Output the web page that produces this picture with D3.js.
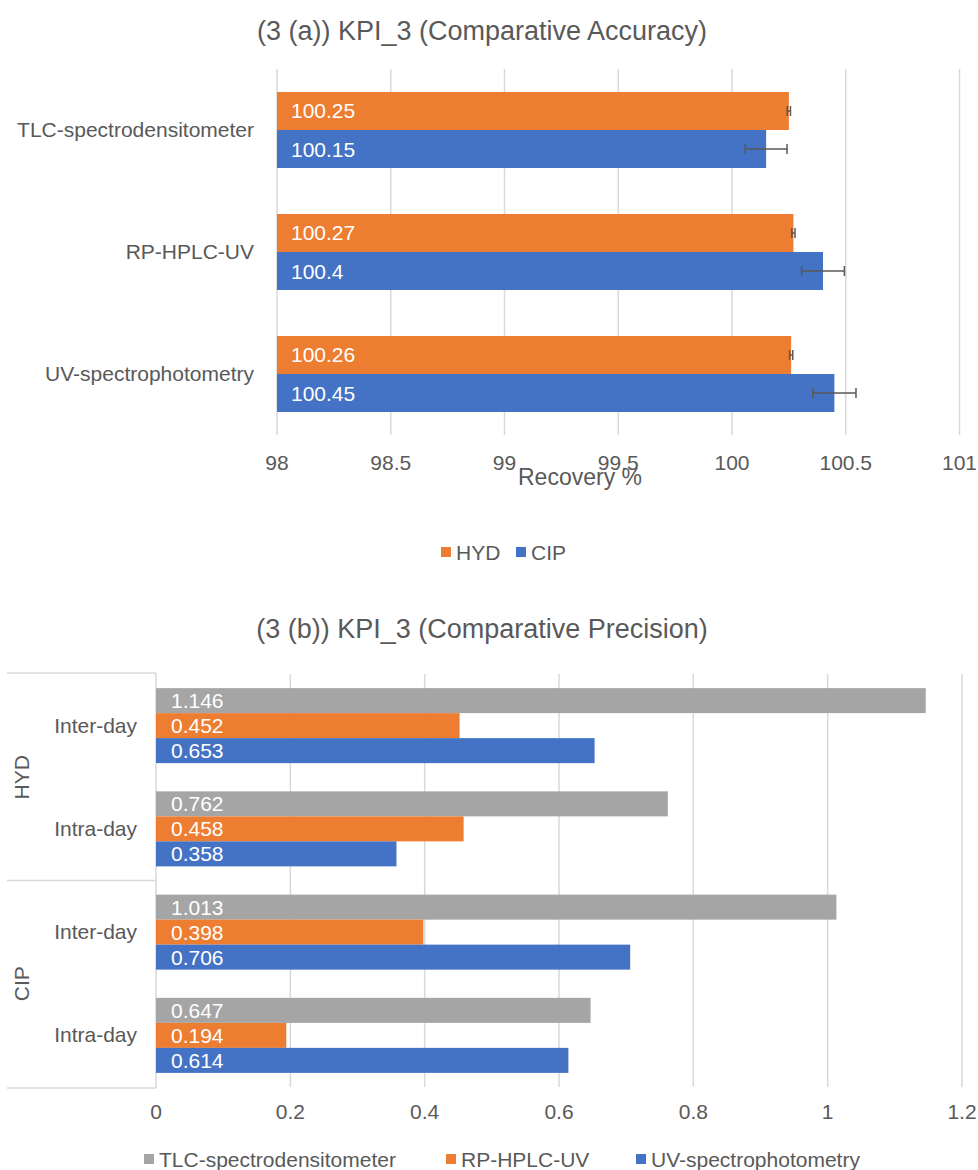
<!DOCTYPE html>
<html>
<head>
<meta charset="utf-8">
<script src="https://cdn.jsdelivr.net/npm/d3@7/dist/d3.min.js"></script>
<style>
  html, body { margin: 0; padding: 0; background: #fff; }
  svg { display: block; font-family: "Liberation Sans", Arial, sans-serif; }
</style>
</head>
<body>
<svg id="chart" width="978" height="1170"></svg>
<script>
// ---- Accuracy panel data ----
const accMethods = ["TLC-spectrodensitometer", "RP-HPLC-UV", "UV-spectrophotometry"];
const accSeries = ["HYD", "CIP"];
const accHYD = [100.25, 100.27, 100.26];
const accCIP = [100.15, 100.4, 100.45];
const accHYDErr = [0.007, 0.007, 0.007];
const accCIPErr = [0.092, 0.094, 0.095];
const accTicks = [98, 98.5, 99, 99.5, 100, 100.5, 101];

// ---- Precision panel data ----
const precGroups = ["HYD", "CIP"];
const precLevels = ["Inter-day", "Intra-day"];
const precSeries = ["TLC-spectrodensitometer", "RP-HPLC-UV", "UV-spectrophotometry"];
const precTLC = [1.146, 0.762, 1.013, 0.647];
const precRP = [0.452, 0.458, 0.398, 0.194];
const precUV = [0.653, 0.358, 0.706, 0.614];
const precTicks = [0, 0.2, 0.4, 0.6, 0.8, 1, 1.2];

const C = { HYD: "#ED7D31", CIP: "#4472C4", TLC: "#A5A5A5", RP: "#ED7D31", UV: "#4472C4" };
const textCol = "#595959";
const gridCol = "#D9D9D9";
const FS = 21;       // body text size
const TITLE_FS = 27; // panel title size

const svg = d3.select("#chart");

/* ================= Panel (a): accuracy ================= */
{
  const g = svg.append("g");
  const x = d3.scaleLinear().domain([98, 101]).range([277, 959.5]);
  const y = d3.scaleBand().domain(accMethods).range([69, 435]).paddingInner(0.377).paddingOuter(0.1885);
  const ySub = d3.scaleBand().domain(accSeries).range([0, y.bandwidth()]);

  g.append("text").attr("x", 482).attr("y", 40).attr("text-anchor", "middle")
    .attr("font-size", TITLE_FS).attr("fill", textCol).text("(3 (a)) KPI_3 (Comparative Accuracy)");

  // gridlines
  g.append("g").selectAll("line").data(accTicks).join("line")
    .attr("x1", d => x(d)).attr("x2", d => x(d))
    .attr("y1", 69).attr("y2", 435)
    .attr("stroke", gridCol).attr("stroke-width", 1.5);

  // tick labels
  g.append("g").selectAll("text").data(accTicks).join("text")
    .attr("x", d => x(d)).attr("y", 470).attr("text-anchor", "middle")
    .attr("font-size", FS).attr("fill", textCol).text(d => d);

  g.append("text").attr("x", 580).attr("y", 485).attr("text-anchor", "middle")
    .attr("font-size", 23).attr("fill", textCol).text("Recovery %");

  // category labels
  g.append("g").selectAll("text").data(accMethods).join("text")
    .attr("x", 254).attr("y", d => y(d) + y.bandwidth() / 2 + 7)
    .attr("text-anchor", "end").attr("font-size", FS).attr("fill", textCol).text(d => d);

  const rows = [];
  accMethods.forEach((m, i) => {
    rows.push({ m, s: "HYD", v: accHYD[i], e: accHYDErr[i] });
    rows.push({ m, s: "CIP", v: accCIP[i], e: accCIPErr[i] });
  });

  g.append("g").selectAll("rect").data(rows).join("rect")
    .attr("x", x(98)).attr("y", d => y(d.m) + ySub(d.s))
    .attr("width", d => x(d.v) - x(98)).attr("height", ySub.bandwidth())
    .attr("fill", d => C[d.s]);

  g.append("g").selectAll("text").data(rows).join("text")
    .attr("x", x(98) + 14).attr("y", d => y(d.m) + ySub(d.s) + ySub.bandwidth() / 2 + 7.5)
    .attr("font-size", FS).attr("fill", "#fff").text(d => d.v);

  // error bars
  const eb = g.append("g").attr("stroke", "#595959").attr("stroke-width", 1.5).attr("fill", "none");
  rows.forEach(d => {
    const cy = y(d.m) + ySub(d.s) + ySub.bandwidth() / 2;
    const x0 = x(d.v - d.e), x1 = x(d.v + d.e);
    eb.append("line").attr("x1", x0).attr("x2", x1).attr("y1", cy).attr("y2", cy);
    eb.append("line").attr("x1", x0).attr("x2", x0).attr("y1", cy - 5).attr("y2", cy + 5);
    eb.append("line").attr("x1", x1).attr("x2", x1).attr("y1", cy - 5).attr("y2", cy + 5);
  });

  // legend
  const leg = g.append("g");
  const legItems = [{ k: "HYD", x: 441 }, { k: "CIP", x: 516 }];
  legItems.forEach(it => {
    leg.append("rect").attr("x", it.x).attr("y", 547).attr("width", 10).attr("height", 10).attr("fill", C[it.k]);
    leg.append("text").attr("x", it.x + 15).attr("y", 560).attr("font-size", FS).attr("fill", textCol).text(it.k);
  });
}

/* ================= Panel (b): precision ================= */
{
  const g = svg.append("g");
  const cats = [];
  precGroups.forEach(gr => precLevels.forEach(l => cats.push(gr + "|" + l)));
  const x = d3.scaleLinear().domain([0, 1.2]).range([156, 962]);
  const y = d3.scaleBand().domain(cats).range([674, 1087]).paddingInner(0.2736).paddingOuter(0.1368);
  const ySub = d3.scaleBand().domain(precSeries).range([0, y.bandwidth()]);
  const colBy = { "TLC-spectrodensitometer": C.TLC, "RP-HPLC-UV": C.RP, "UV-spectrophotometry": C.UV };

  g.append("text").attr("x", 482).attr("y", 638).attr("text-anchor", "middle")
    .attr("font-size", TITLE_FS).attr("fill", textCol).text("(3 (b)) KPI_3 (Comparative Precision)");

  g.append("g").selectAll("line").data(precTicks.slice(1)).join("line")
    .attr("x1", d => x(d)).attr("x2", d => x(d))
    .attr("y1", 674).attr("y2", 1087)
    .attr("stroke", gridCol).attr("stroke-width", 1.5);

  g.append("g").selectAll("text").data(precTicks).join("text")
    .attr("x", d => x(d)).attr("y", 1119).attr("text-anchor", "middle")
    .attr("font-size", FS).attr("fill", textCol).text(d => d);

  // multi-level category axis
  const ax = g.append("g").attr("stroke", gridCol).attr("stroke-width", 1.5);
  ax.append("line").attr("x1", x(0)).attr("x2", x(0)).attr("y1", 673).attr("y2", 1088);
  [673, 880.5, 1088].forEach(yy => ax.append("line").attr("x1", 7).attr("x2", x(0)).attr("y1", yy).attr("y2", yy));

  g.append("g").selectAll("text").data(cats).join("text")
    .attr("x", 137).attr("y", d => y(d) + y.bandwidth() / 2 + 7)
    .attr("text-anchor", "end").attr("font-size", FS).attr("fill", textCol).text(d => d.split("|")[1]);

  precGroups.forEach(gr => {
    const a = y(gr + "|" + precLevels[0]), b = y(gr + "|" + precLevels[1]) + y.bandwidth();
    const cy = (a + b) / 2;
    g.append("text").attr("transform", `translate(29,${cy}) rotate(-90)`)
      .attr("text-anchor", "middle").attr("font-size", FS).attr("fill", textCol).text(gr);
  });

  const rows = [];
  cats.forEach((c, i) => {
    rows.push({ c, s: precSeries[0], v: precTLC[i] });
    rows.push({ c, s: precSeries[1], v: precRP[i] });
    rows.push({ c, s: precSeries[2], v: precUV[i] });
  });

  g.append("g").selectAll("rect").data(rows).join("rect")
    .attr("x", x(0)).attr("y", d => y(d.c) + ySub(d.s))
    .attr("width", d => x(d.v) - x(0)).attr("height", ySub.bandwidth())
    .attr("fill", d => colBy[d.s]);

  g.append("g").selectAll("text").data(rows).join("text")
    .attr("x", x(0) + 15).attr("y", d => y(d.c) + ySub(d.s) + ySub.bandwidth() / 2 + 7.5)
    .attr("font-size", FS).attr("fill", "#fff").text(d => d.v);

  const legItems = [{ k: precSeries[0], x: 144 }, { k: precSeries[1], x: 446 }, { k: precSeries[2], x: 636 }];
  const leg = g.append("g");
  legItems.forEach(it => {
    leg.append("rect").attr("x", it.x).attr("y", 1154).attr("width", 10).attr("height", 10).attr("fill", colBy[it.k]);
    leg.append("text").attr("x", it.x + 15).attr("y", 1167).attr("font-size", FS).attr("fill", textCol).text(it.k);
  });
}
</script>
</body>
</html>
